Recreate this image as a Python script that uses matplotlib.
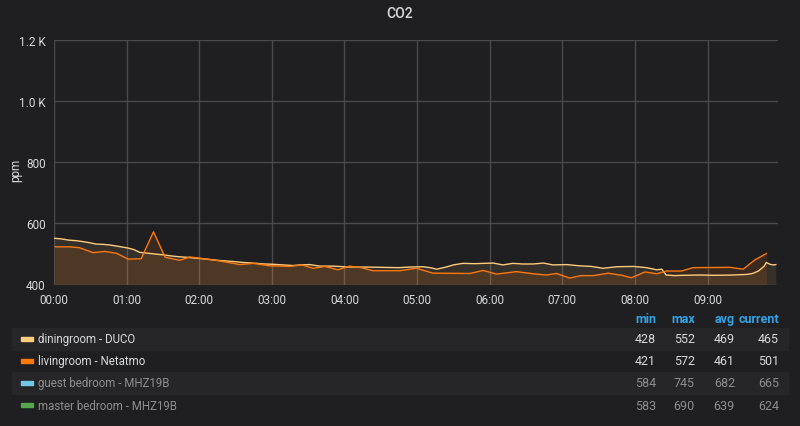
import matplotlib
matplotlib.use("Agg")
import matplotlib.pyplot as plt
from matplotlib.patches import Rectangle

plt.rcParams['font.family'] = ['Roboto', 'DejaVu Sans']

# time in hours since 00:00
dining_t = [0.00, 0.10, 0.20, 0.31, 0.40, 0.50, 0.58, 0.68, 0.77, 0.90,
            1.02, 1.10, 1.18, 1.30, 1.41, 1.50, 1.59, 1.70, 1.82, 1.95,
            2.10, 2.25, 2.47, 2.60, 2.79, 2.90, 3.02, 3.15, 3.29, 3.40,
            3.52, 3.66, 3.85, 4.07, 4.30, 4.53, 4.74, 4.90, 5.08, 5.18,
            5.27, 5.40, 5.50, 5.63, 5.80, 5.91, 6.05, 6.18, 6.32, 6.45,
            6.60, 6.74, 6.87, 7.06, 7.24, 7.40, 7.56, 7.75, 7.98, 8.16,
            8.30, 8.37, 8.43, 8.55, 8.66, 8.90, 9.10, 9.35, 9.54, 9.62,
            9.70, 9.78, 9.81, 9.86, 9.90, 9.94]
dining_v = [551, 549, 545, 543, 540, 536, 532, 531, 529, 524,
            519, 514, 505, 502, 499, 497, 494, 491, 489, 486,
            483, 479, 475, 472, 469, 467, 466, 464, 462, 464,
            465, 460, 460, 457, 457, 456, 455, 457, 458, 455,
            450, 457, 464, 469, 468, 469, 470, 464, 469, 467,
            467, 470, 464, 465, 461, 459, 453, 458, 459, 455,
            448, 450, 431, 429, 430, 431, 430, 431, 433, 436,
            444, 460, 472, 466, 464, 465]

living_t = [0.02, 0.22, 0.35, 0.54, 0.70, 0.86, 1.02, 1.20, 1.37, 1.53,
            1.73, 1.87, 2.00, 2.28, 2.56, 2.74, 2.97, 3.25, 3.41, 3.57,
            3.73, 3.91, 4.07, 4.23, 4.39, 4.76, 4.99, 5.22, 5.73, 5.91,
            6.09, 6.37, 6.60, 6.78, 6.92, 7.10, 7.26, 7.43, 7.63, 7.82,
            7.95, 8.14, 8.30, 8.43, 8.64, 8.80, 9.31, 9.49, 9.65, 9.81]
living_v = [523, 523, 520, 504, 508, 502, 483, 484, 572, 489,
            479, 490, 486, 477, 465, 469, 461, 459, 464, 453,
            459, 448, 460, 455, 445, 445, 453, 437, 436, 446,
            434, 442, 435, 431, 436, 421, 429, 429, 437, 430,
            422, 441, 435, 444, 444, 455, 456, 450, 480, 501]

hour_ticks = list(range(10))
hour_labels = ['00:00', '01:00', '02:00', '03:00', '04:00',
               '05:00', '06:00', '07:00', '08:00', '09:00']
y_ticks = [400, 600, 800, 1000, 1200]
y_labels = ['400', '600', '800', '1.0 K', '1.2 K']

series_names = ['diningroom - DUCO', 'livingroom - Netatmo',
                'guest bedroom - MHZ19B', 'master bedroom - MHZ19B']
series_colors = ['#FFCB7D', '#FF780A', '#73C7E6', '#56A64B']
series_hidden = [False, False, True, True]
stat_cols = ['min', 'max', 'avg', 'current']
stat_min = [428, 421, 584, 583]
stat_max = [552, 572, 745, 690]
stat_avg = [469, 461, 682, 639]
stat_cur = [465, 501, 665, 624]

bg = '#1f1f21'
text_col = '#d8d9da'
W, H = 800, 427

fig = plt.figure(figsize=(8, 4.27), dpi=100, facecolor=bg)
ax = fig.add_axes([54 / W, 1 - 285.5 / H, 724 / W, 245 / H], facecolor=bg)

ax.fill_between(dining_t, dining_v, 400, color=series_colors[0], alpha=0.10, lw=0)
ax.fill_between(living_t, living_v, 400, color=series_colors[1], alpha=0.12, lw=0)
ax.plot(dining_t, dining_v, color=series_colors[0], lw=1)
ax.plot(living_t, living_v, color=series_colors[1], lw=1)

ax.set_xlim(0, 9.97)
ax.set_ylim(400, 1200)
ax.set_xticks(hour_ticks)
ax.set_xticklabels(hour_labels)
ax.set_yticks(y_ticks)
ax.set_yticklabels(y_labels)
ax.grid(True, color='#4a4a4c', lw=1)
ax.set_axisbelow(True)
for s in ax.spines.values():
    s.set_visible(False)
ax.tick_params(colors=text_col, labelsize=8.5, length=0, pad=6)

fig.text(16 / W, 1 - 170 / H, 'ppm', rotation=90, ha='center', va='center',
         color=text_col, fontsize=8.5)
fig.text(0.5, 1 - 14 / H, 'CO2', ha='center', va='center',
         color=text_col, fontsize=10, fontweight='medium')

# legend table
col_right = [656, 695, 735, 779]
for x, name in zip(col_right, stat_cols):
    fig.text(x / W, 1 - 323 / H, name, ha='right', va='baseline',
             color='#33a2e5', fontsize=9, fontweight='bold')

row_top = [328.5, 350.5, 372.5, 395]
row_h = 22
for i, name in enumerate(series_names):
    yc = row_top[i] + row_h / 2
    if i % 2 == 0:
        fig.patches.append(Rectangle((12 / W, 1 - (row_top[i] + row_h) / H), 776 / W, row_h / H,
                                     transform=fig.transFigure, color='#262629', zorder=0))
    fig.patches.append(Rectangle((21 / W, 1 - (yc + 2) / H), 12 / W, 4 / H,
                                 transform=fig.transFigure, color=series_colors[i], zorder=1))
    tc = '#8e8e8e' if series_hidden[i] else text_col
    fig.text(38 / W, 1 - (yc + 4) / H, name, ha='left', va='baseline', color=tc, fontsize=8.3)
    vals = [stat_min[i], stat_max[i], stat_avg[i], stat_cur[i]]
    for x, v in zip(col_right, vals):
        fig.text(x / W, 1 - (yc + 4) / H, str(v), ha='right', va='baseline', color=tc, fontsize=9)

fig.savefig('out.png', dpi=100, facecolor=bg)
